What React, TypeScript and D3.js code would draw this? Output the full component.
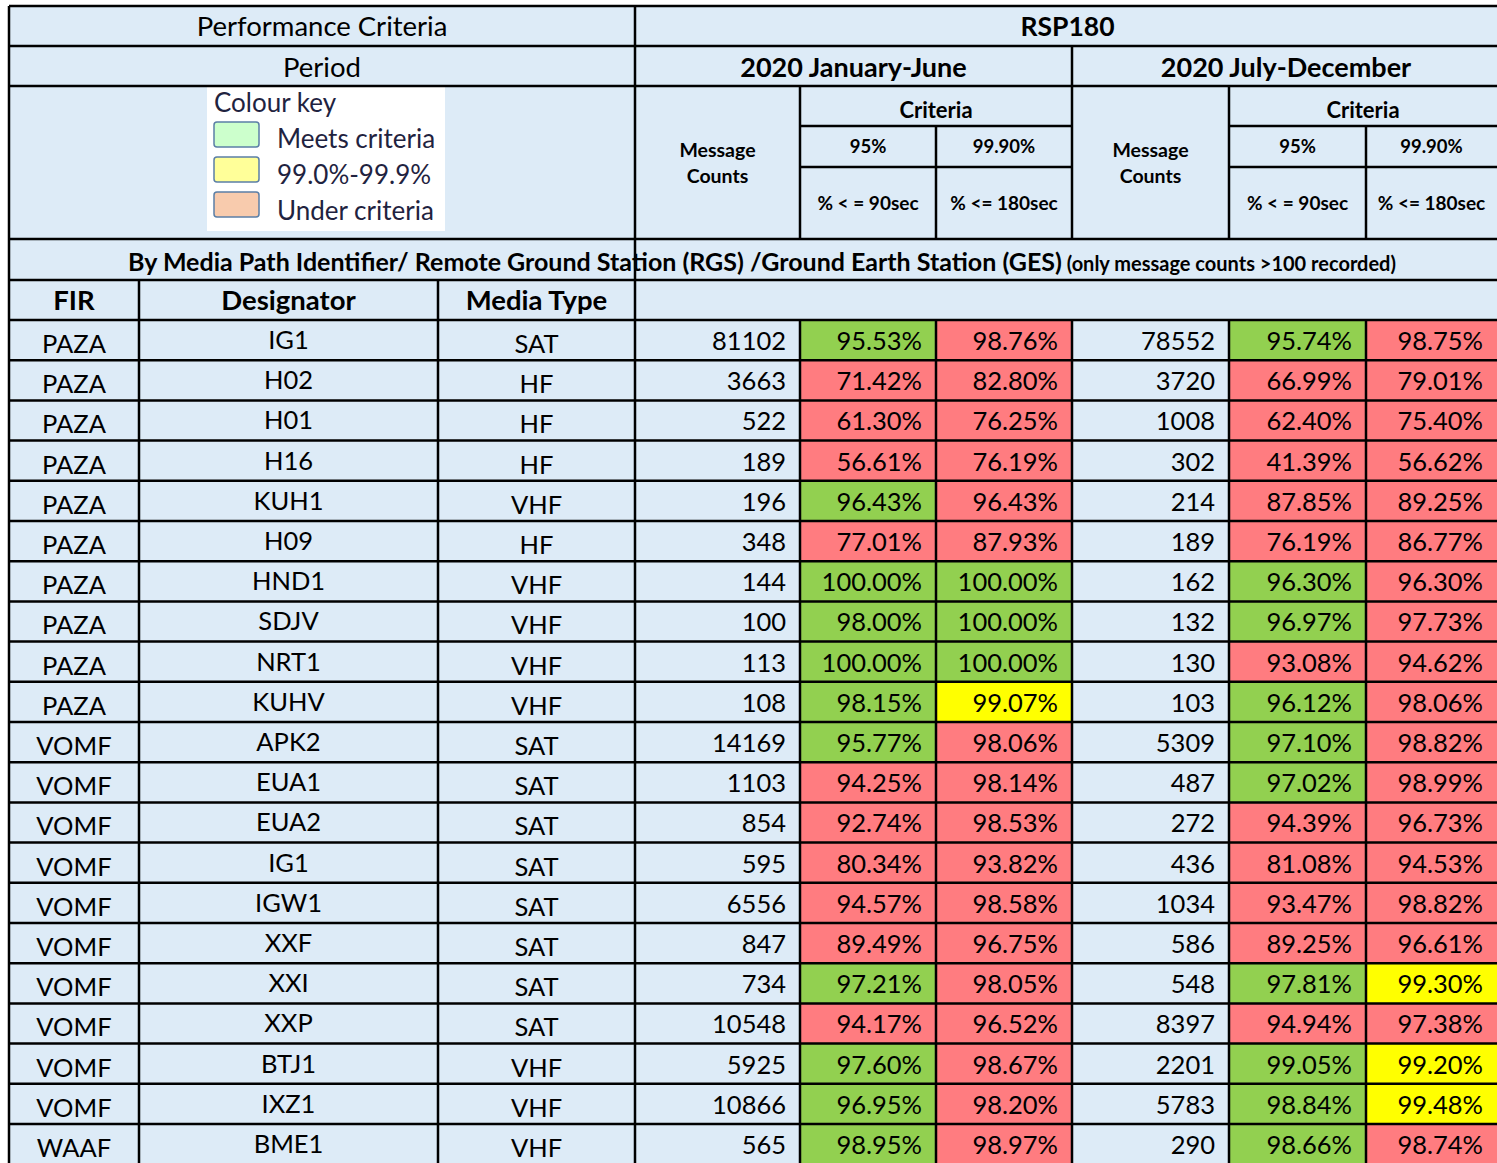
import * as d3 from "d3";
import React from "react";

const firs = ["PAZA", "PAZA", "PAZA", "PAZA", "PAZA", "PAZA", "PAZA", "PAZA", "PAZA", "PAZA", "VOMF", "VOMF", "VOMF", "VOMF", "VOMF", "VOMF", "VOMF", "VOMF", "VOMF", "VOMF", "WAAF"];
const designators = ["IG1", "H02", "H01", "H16", "KUH1", "H09", "HND1", "SDJV", "NRT1", "KUHV", "APK2", "EUA1", "EUA2", "IG1", "IGW1", "XXF", "XXI", "XXP", "BTJ1", "IXZ1", "BME1"];
const mediaTypes = ["SAT", "HF", "HF", "HF", "VHF", "HF", "VHF", "VHF", "VHF", "VHF", "SAT", "SAT", "SAT", "SAT", "SAT", "SAT", "SAT", "SAT", "VHF", "VHF", "VHF"];

const countsH1 = [81102, 3663, 522, 189, 196, 348, 144, 100, 113, 108, 14169, 1103, 854, 595, 6556, 847, 734, 10548, 5925, 10866, 565];
const p90H1 = [95.53, 71.42, 61.3, 56.61, 96.43, 77.01, 100, 98.0, 100, 98.15, 95.77, 94.25, 92.74, 80.34, 94.57, 89.49, 97.21, 94.17, 97.6, 96.95, 98.95];
const p180H1 = [98.76, 82.8, 76.25, 76.19, 96.43, 87.93, 100, 100, 100, 99.07, 98.06, 98.14, 98.53, 93.82, 98.58, 96.75, 98.05, 96.52, 98.67, 98.2, 98.97];

const countsH2 = [78552, 3720, 1008, 302, 214, 189, 162, 132, 130, 103, 5309, 487, 272, 436, 1034, 586, 548, 8397, 2201, 5783, 290];
const p90H2 = [95.74, 66.99, 62.4, 41.39, 87.85, 76.19, 96.3, 96.97, 93.08, 96.12, 97.1, 97.02, 94.39, 81.08, 93.47, 89.25, 97.81, 94.94, 99.05, 98.84, 98.66];
const p180H2 = [98.75, 79.01, 75.4, 56.62, 89.25, 86.77, 96.3, 97.73, 94.62, 98.06, 98.82, 98.99, 96.73, 94.53, 98.82, 96.61, 99.3, 97.38, 99.2, 99.48, 98.74];

const legendItems = ["Meets criteria", "99.0%-99.9%", "Under criteria"];
const legendColors = ["#CCFFCC", "#FFFF99", "#F8CBAD"];

const BG = "#DDEBF7";
const GREEN = "#92D050";
const RED = "#FF7C80";
const YELLOW = "#FFFF00";
const FONT = "Lato, 'Open Sans', sans-serif";
const SW = 2.5;

// criteria colouring
const color95 = d3.scaleThreshold<number, string>().domain([95]).range([RED, GREEN]);
const color999 = d3.scaleThreshold<number, string>().domain([99, 99.9]).range([RED, YELLOW, GREEN]);

// column edges
const X = [9, 139, 438, 635, 800, 936, 1072, 1229, 1366, 1497];
const xMid = (a: number, b: number) => (a + b) / 2;

const y = d3.scaleBand<number>()
  .domain(d3.range(firs.length))
  .range([320, 320 + firs.length * 40.2]);

const fmtPct = (v: number) => d3.format(".2f")(v) + "%";

export default function App() {
  const rh = y.bandwidth();
  const cells: React.ReactNode[] = [];

  firs.forEach((fir, i) => {
    const y0 = y(i)!;
    const pcts = [
      { x0: X[4], x1: X[5], v: p90H1[i], c: color95(p90H1[i]) },
      { x0: X[5], x1: X[6], v: p180H1[i], c: color999(p180H1[i]) },
      { x0: X[7], x1: X[8], v: p90H2[i], c: color95(p90H2[i]) },
      { x0: X[8], x1: X[9] + 10, v: p180H2[i], c: color999(p180H2[i]) },
    ];
    cells.push(
      <g key={i}>
        {pcts.map((p, k) => (
          <rect key={k} x={p.x0} y={y0} width={p.x1 - p.x0} height={rh} fill={p.c} />
        ))}
        <text x={xMid(X[0], X[1])} y={y0 + 33} textAnchor="middle">{fir}</text>
        <text x={xMid(X[1], X[2])} y={y0 + 29} textAnchor="middle">{designators[i]}</text>
        <text x={xMid(X[2], X[3])} y={y0 + 33} textAnchor="middle">{mediaTypes[i]}</text>
        <text x={X[4] - 14} y={y0 + 30} textAnchor="end">{countsH1[i]}</text>
        <text x={X[7] - 14} y={y0 + 30} textAnchor="end">{countsH2[i]}</text>
        {pcts.map((p, k) => (
          <text key={"t" + k} x={Math.min(p.x1, X[9]) - 14} y={y0 + 30} textAnchor="end">{fmtPct(p.v)}</text>
        ))}
      </g>
    );
  });

  const bottom = y.range()[1];
  const hLines: [number, number, number][] = [
    [6, X[0], 1510],
    [46, X[0], 1510],
    [86, X[0], 1510],
    [126, X[4], X[6]],
    [126, X[7], 1510],
    [167, X[4], X[6]],
    [167, X[7], 1510],
    [239, X[0], 1510],
    [280, X[0], 1510],
    [320, X[0], 1510],
  ];
  y.domain().forEach((i) => hLines.push([y(i)! + rh, X[0], 1510]));

  const vLines: [number, number, number][] = [
    [X[0], 6, bottom],
    [X[3], 6, bottom],
    [X[6], 46, 239],
    [X[4], 86, 239],
    [X[5], 126, 239],
    [X[7], 86, 239],
    [X[8], 126, 239],
    [X[1], 280, bottom],
    [X[2], 280, bottom],
    [X[4], 320, bottom],
    [X[5], 320, bottom],
    [X[6], 320, bottom],
    [X[7], 320, bottom],
    [X[8], 320, bottom],
  ];

  return (
    <svg
      width={1497}
      height={1163}
      style={{ position: "absolute", left: 0, top: 0, background: "#fff" }}
      fontFamily={FONT}
      fontSize={25.5}
      fill="#000"
    >
      <rect x={X[0]} y={6} width={1510 - X[0]} height={bottom - 6} fill={BG} />
      {cells}

      {/* header block */}
      <text x={xMid(X[0], X[3])} y={36} textAnchor="middle" fontSize={27.5}>Performance Criteria</text>
      <text x={xMid(X[3], 1500)} y={36} textAnchor="middle" fontWeight="bold" fontSize={26.5}>RSP180</text>
      <text x={xMid(X[0], X[3])} y={77} textAnchor="middle" fontSize={27.5}>Period</text>
      <text x={xMid(X[3], X[6])} y={77} textAnchor="middle" fontWeight="bold" fontSize={27}>2020 January-June</text>
      <text x={xMid(X[6], 1500)} y={77} textAnchor="middle" fontWeight="bold" fontSize={27}>2020 July-December</text>

      {[0, 1].map((h) => {
        const base = h === 0 ? 3 : 6;
        const right = h === 0 ? X[6] : X[9];
        return (
          <g key={h} fontWeight="bold">
            <text x={xMid(X[base], X[base + 1])} y={157} textAnchor="middle" fontSize={19.5}>Message</text>
            <text x={xMid(X[base], X[base + 1])} y={183} textAnchor="middle" fontSize={19.5}>Counts</text>
            <text x={xMid(X[base + 1], right)} y={118} textAnchor="middle" fontSize={22}>Criteria</text>
            <text x={xMid(X[base + 1], X[base + 2])} y={153} textAnchor="middle" fontSize={18.5}>95%</text>
            <text x={xMid(X[base + 2], right)} y={153} textAnchor="middle" fontSize={18.5}>99.90%</text>
            <text x={xMid(X[base + 1], X[base + 2])} y={210} textAnchor="middle" fontSize={19}>{"% < = 90sec"}</text>
            <text x={xMid(X[base + 2], right)} y={210} textAnchor="middle" fontSize={19}>{"% <= 180sec"}</text>
          </g>
        );
      })}

      {/* colour key */}
      <g>
        <rect x={207} y={86} width={238} height={145} fill="#fff" />
        <text x={214} y={112} fontSize={26} fill="#1F2340">Colour key</text>
        {legendItems.map((lab, k) => (
          <g key={lab}>
            <rect x={214} y={122 + k * 35} width={45} height={25} rx={3} fill={legendColors[k]} stroke="#5B7FA6" strokeWidth={1.5} />
            <text x={277} y={148 + k * 36} fontSize={26} fill="#1F2340">{lab}</text>
          </g>
        ))}
      </g>

      <text x={762} y={271} textAnchor="middle" fontWeight="bold" fontSize={25}>
        By Media Path Identifier/ Remote Ground Station (RGS) /Ground Earth Station (GES)
        <tspan fontSize={20}> (only message counts &gt;100 recorded)</tspan>
      </text>

      <g fontWeight="bold" fontSize={27.5}>
        <text x={xMid(X[0], X[1])} y={310} textAnchor="middle">FIR</text>
        <text x={xMid(X[1], X[2])} y={310} textAnchor="middle">Designator</text>
        <text x={xMid(X[2], X[3])} y={310} textAnchor="middle">Media Type</text>
      </g>

      <g stroke="#000" strokeWidth={SW}>
        {hLines.map(([yy, a, b], k) => (
          <line key={"h" + k} x1={a} x2={b} y1={yy} y2={yy} />
        ))}
        {vLines.map(([xx, a, b], k) => (
          <line key={"v" + k} x1={xx} x2={xx} y1={a} y2={b} />
        ))}
      </g>
    </svg>
  );
}
